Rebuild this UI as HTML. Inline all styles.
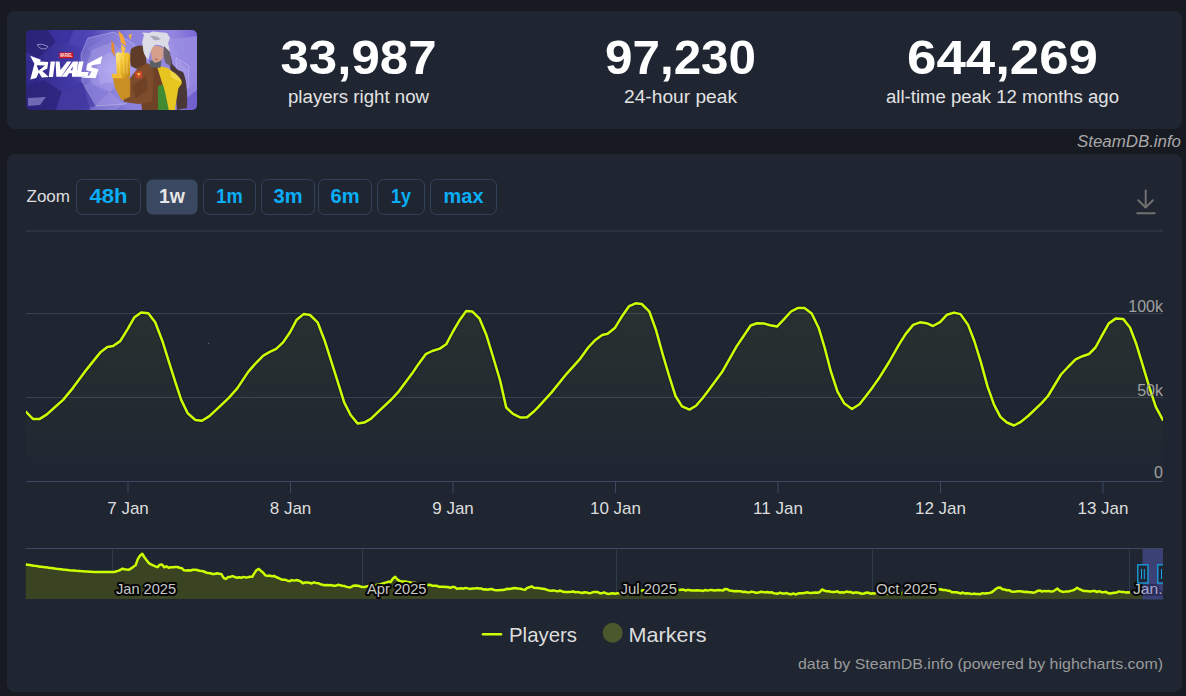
<!DOCTYPE html>
<html><head><meta charset="utf-8"><style>
html,body{margin:0;padding:0}
body{width:1186px;height:696px;overflow:hidden;background:#171a21;position:relative;font-family:"Liberation Sans",sans-serif}
.card{position:absolute;background:#1f2632;border-radius:8px}
.img{position:absolute;left:26px;top:30px;width:171px;height:80px;border-radius:5px;overflow:hidden}
.stat{position:absolute;top:0;width:320px;text-align:center;color:#fff}
.num{position:absolute;left:0;width:320px;top:31px;font-size:46px;line-height:52px;font-weight:bold;transform:scaleX(1.09)}
.lbl{position:absolute;left:0;width:320px;top:84px;font-size:18px;line-height:22px;color:#e0e0e0}
.wm{position:absolute;right:5px;top:130px;font-size:16px;font-style:italic;color:#a8a8a8;line-height:20px}
</style></head><body>
<div class="card" style="left:7px;top:11px;width:1175px;height:118px"></div>
<div class="img"><svg width="171" height="80" viewBox="0 0 171 80">
<defs>
<linearGradient id="ibg" x1="0" y1="0" x2="1" y2="0">
<stop offset="0" stop-color="#2e2786"/><stop offset="0.35" stop-color="#4a3fb0"/><stop offset="0.6" stop-color="#8a80dc"/><stop offset="0.85" stop-color="#9486e0"/><stop offset="1" stop-color="#7a68d4"/>
</linearGradient>
<radialGradient id="glow" cx="0.55" cy="0.5" r="0.3">
<stop offset="0" stop-color="#d0caff" stop-opacity="0.6"/><stop offset="1" stop-color="#b0a0f0" stop-opacity="0"/>
</radialGradient>
<linearGradient id="gold" x1="0" y1="0" x2="1" y2="1">
<stop offset="0" stop-color="#fff09a"/><stop offset="0.45" stop-color="#f2c02a"/><stop offset="1" stop-color="#c08018"/>
</linearGradient>
<linearGradient id="jk" x1="0" y1="0" x2="1" y2="1">
<stop offset="0" stop-color="#8a5632"/><stop offset="1" stop-color="#5a341e"/>
</linearGradient>
</defs>
<rect width="171" height="80" fill="url(#ibg)"/>
<rect width="171" height="80" fill="url(#glow)"/>
<polygon points="0,0 22,0 30,12 12,28 0,22" fill="#2a2276" opacity="0.8"/>
<polygon points="22,0 48,0 42,14 30,12" fill="#3a31a0" opacity="0.7"/>
<polygon points="48,0 70,0 62,18 42,14" fill="#5048b8" opacity="0.6"/>
<polygon points="0,22 12,28 8,52 0,56" fill="#3c34a0" opacity="0.6"/>
<polygon points="0,56 18,50 36,62 30,80 0,80" fill="#2c2478" opacity="0.8"/>
<polygon points="30,80 36,62 58,56 64,80" fill="#4a40aa" opacity="0.7"/>
<polygon points="58,56 78,42 86,62 64,80" fill="#7a70d0" opacity="0.6"/>
<polygon points="62,18 80,8 84,30 70,36" fill="#7068c8" opacity="0.6"/>
<polygon points="84,62 98,74 90,80 64,80" fill="#a098e0" opacity="0.5"/>
<polygon points="146,12 166,4 171,10 171,44 156,34" fill="#8070d8" opacity="0.7"/>
<polygon points="152,30 162,40 160,62 150,56" fill="#c0b8f4" opacity="0.45"/>
<polygon points="160,60 171,52 171,80 158,80" fill="#6a58c8" opacity="0.6"/>
<polygon points="62,8 88,2 108,14 112,48 100,74 70,76 56,52 55,24" fill="#a49ce8" opacity="0.45"/>
<polygon points="62,8 88,2 108,14 112,48 100,74 70,76 56,52 55,24" fill="none" stroke="#dcd6ff" stroke-width="0.7" opacity="0.55"/>
<polygon points="66,20 86,12 100,24 98,50 84,62 66,54 60,36" fill="#b8b0f0" opacity="0.35"/>
<polygon points="70,30 84,22 94,34 90,52 74,54" fill="#d0c8ff" opacity="0.25"/>
<polygon points="56,52 70,76 50,80 30,80 38,62" fill="#3e349a" opacity="0.5"/>
<polygon points="0,30 14,34 10,56 0,60" fill="#2c2480" opacity="0.5"/>
<path d="M11.5,14.5 Q16,13 22,16.5 Q21,19.5 17,19 Q12,18 11.5,14.5 Z" fill="none" stroke="#c8c0f0" stroke-width="0.8" opacity="0.8"/>
<polygon points="2,68 20,67 14,75 2,76" fill="#a8a0e0" opacity="0.55"/>
<rect x="33.2" y="22.4" width="14" height="5.8" fill="#d0121b"/>
<text x="40.2" y="27.3" font-family="Liberation Sans" font-weight="bold" font-size="5.4" fill="#fff" text-anchor="middle" textLength="12" lengthAdjust="spacingAndGlyphs">MARVEL</text>
<g fill="#fff">
<path d="M4.1,25.7 L14.9,29.7 L14,31.5 L22.2,32 L21.3,38.4 L16.3,41.1 L22.7,47.1 L15.8,47.6 L12.8,42.5 L10.3,48 L4.3,49.4 L8.4,33.8 Z M10.7,35.2 L19,35.6 L12.6,40.7 Z" fill-rule="evenodd"/>
<polygon points="24.6,31.5 29,31.5 27,47 22.8,47"/>
<polygon points="29.6,31.5 33.6,31.5 34.5,40 41.1,31.5 45.4,31.5 35.3,46.8 30.3,46.8"/>
<path d="M35.5,46.8 L47,31.5 L52,31.5 L50.5,46.8 L46,46.8 L46,43.2 L43,43.2 L40.8,46.8 Z M44.6,40.2 L46.4,40.2 L46.9,36.2 Z" fill-rule="evenodd"/>
<polygon points="52.8,31.5 57.6,31.5 55.2,42 62.6,42 61.4,46.8 50,46.8"/>
<polygon points="76.2,26 74.6,33.8 66.1,35.2 65.1,37.2 72.5,39.3 69.7,48 55,47.8 63.3,45.5 65.6,41.6 60.1,40.2 61.5,33.8"/>
</g>
<polygon points="140,10 171,6 171,60 158,70" fill="#a89ce8" opacity="0.55"/>
<polygon points="150,28 163,36 162,58 152,62" fill="none" stroke="#d8d0ff" stroke-width="0.7" opacity="0.6"/>
<!-- right jacket dark -->
<path d="M140,20 Q146,26 146,34 L152,40 L157,42 Q162,52 161,78 L151,80 L149,58 Z" fill="#4a3838"/>
<!-- hair back brown -->
<path d="M105,19 Q111,14 119,16 L121,40 Q112,41 105,36 Q103,28 105,19 Z" fill="#5e3c28"/>
<!-- jacket lapel -->
<path d="M118,34 L131,35 L137,54 L140,80 L116,80 L114,60 Z" fill="#6e4226"/>
<!-- sleeve -->
<path d="M104,48 L112,38 L122,33 L128,42 L126,72 L112,74 L98,72 L96,62 Z" fill="#7c4c2c"/>
<path d="M106,56 L120,46 L122,60 L110,68 Z" fill="#6a3e22" opacity="0.7"/>
<path d="M109,41.4 L116,41 L116.2,48 L109.5,48.5 Z" fill="#c8482e"/>
<path d="M111,43 L114.5,43 L113,46.5 Z" fill="#f0c030"/>
<!-- yellow -->
<path d="M130.7,35.4 L142,38 L151.2,46.3 Q157,50 155.5,54 L152.4,58.3 L148.8,80 L139,80 L136.7,54.7 Z" fill="#e7c520"/>
<path d="M144,40 Q154,45 155,52 Q149,50 145,47 Z" fill="#f6dc50" opacity="0.8"/>
<!-- green -->
<path d="M131.9,56 L137,54.5 L139,62 L142.8,80 L131.9,80 Z" fill="#3f8a32"/>
<!-- collar -->
<path d="M123.5,30.6 L135.5,30.6 L134.5,37.8 L124.5,37.8 Z" fill="#5a5e66"/>
<!-- face -->
<path d="M125,17 Q131,14 137.5,18 L137.5,27 Q134,33 128,32.5 Q124.5,29 125,17 Z" fill="#d4a08c"/>
<path d="M128.5,29 L132,29.5" stroke="#a05050" stroke-width="0.8"/>
<!-- hair white -->
<path d="M116.2,12 L118,5 L116,2.5 L123,3 L127,1.6 L134,2.2 L141,3 L144,8 L142,13 L144,22 L139,18 Q134,14 129,15 Q126,17 124.5,22 L122,30 Q117,24 117,18 Z" fill="#dcdce6"/>
<path d="M124,6 Q130,5 135,9 Q131,11 128,10 Z" fill="#a8a8b8"/>
<path d="M138,16 L144,22 L145.2,36.6 L139.5,33 L137.5,26 Z" fill="#6c6068"/>
<!-- gold arm & hand -->
<path d="M86,44 L95,44.5 L104.2,48.7 L104.2,66.8 L95.7,70.4 L89,58 Z" fill="#c98e24"/>
<path d="M89.7,24 L92,22.1 L95,23 L97,21.5 L100,23 L102,22.5 L104.2,25 L104,47 L97,49 L91,46.5 Z" fill="url(#gold)"/>
<path d="M85.7,43.7 L95,44 L96,48.3 L86.5,48.3 Z" fill="#f3bc34"/>
<path d="M93,27 L94,44 M97,26 L98,44 M101,27 L101,44" stroke="#fff0a0" stroke-width="0.6" opacity="0.7"/>
<polygon points="92.1,0.4 97,5 100.5,16.1 95,13" fill="#f5a838"/>
<polygon points="102.3,5.2 106,3.5 104.5,10" fill="#f0b048"/>
<polygon points="85.5,10 88,14 89,27 85.5,21" fill="#e88a30"/>
<polygon points="95.5,14 99.5,18 98,24 95,20" fill="#f8c040"/>
</svg></div>
<svg width="1186" height="150" style="position:absolute;left:0;top:0" font-family="Liberation Sans">
<text x="358.5" y="73.5" font-size="48" font-weight="bold" fill="#fff" text-anchor="middle" textLength="156" lengthAdjust="spacingAndGlyphs">33,987</text><text x="358.5" y="103" font-size="18.8" fill="#e2e2e2" text-anchor="middle" textLength="141" lengthAdjust="spacingAndGlyphs">players right now</text>
<text x="680.5" y="73.5" font-size="48" font-weight="bold" fill="#fff" text-anchor="middle" textLength="151" lengthAdjust="spacingAndGlyphs">97,230</text><text x="680.5" y="103" font-size="18.8" fill="#e2e2e2" text-anchor="middle" textLength="113" lengthAdjust="spacingAndGlyphs">24-hour peak</text>
<text x="1002.5" y="73.5" font-size="48" font-weight="bold" fill="#fff" text-anchor="middle" textLength="191" lengthAdjust="spacingAndGlyphs">644,269</text><text x="1002.5" y="103" font-size="18.8" fill="#e2e2e2" text-anchor="middle" textLength="233" lengthAdjust="spacingAndGlyphs">all-time peak 12 months ago</text>
<text x="1181" y="146.8" font-size="16" font-style="italic" fill="#a8a8a8" text-anchor="end" textLength="104" lengthAdjust="spacingAndGlyphs">SteamDB.info</text>
</svg>
<div class="card" style="left:7px;top:154px;width:1175px;height:538px"></div>
<svg width="1186" height="696" viewBox="0 0 1186 696" style="position:absolute;left:0;top:0" font-family="Liberation Sans">
<defs>
<linearGradient id="af" x1="0" y1="231" x2="0" y2="481" gradientUnits="userSpaceOnUse">
<stop offset="0" stop-color="#ccff00" stop-opacity="0.075"/><stop offset="1" stop-color="#ccff00" stop-opacity="0"/>
</linearGradient>
<clipPath id="pc"><rect x="26" y="220" width="1137" height="262"/></clipPath>
<clipPath id="nc"><rect x="25.5" y="548" width="1137.5" height="52"/></clipPath>
</defs>
<text x="26.5" y="202" font-size="17" fill="#dddddd">Zoom</text>
<rect x="76.5" y="179.5" width="64" height="35" rx="6" fill="none" stroke="#33425a" stroke-width="1"/><text x="108.5" y="203" font-size="19.5" font-weight="bold" fill="#0aaef7" text-anchor="middle" textLength="38" lengthAdjust="spacingAndGlyphs">48h</text><rect x="146.5" y="179.5" width="51" height="35" rx="6" fill="#3a4862"/><text x="172.0" y="203" font-size="19.5" font-weight="bold" fill="#e6e6e6" text-anchor="middle" textLength="26" lengthAdjust="spacingAndGlyphs">1w</text><rect x="203.5" y="179.5" width="52" height="35" rx="6" fill="none" stroke="#33425a" stroke-width="1"/><text x="229.5" y="203" font-size="19.5" font-weight="bold" fill="#0aaef7" text-anchor="middle" textLength="26.5" lengthAdjust="spacingAndGlyphs">1m</text><rect x="261.5" y="179.5" width="53" height="35" rx="6" fill="none" stroke="#33425a" stroke-width="1"/><text x="288.0" y="203" font-size="19.5" font-weight="bold" fill="#0aaef7" text-anchor="middle" textLength="29" lengthAdjust="spacingAndGlyphs">3m</text><rect x="318.5" y="179.5" width="53" height="35" rx="6" fill="none" stroke="#33425a" stroke-width="1"/><text x="345.0" y="203" font-size="19.5" font-weight="bold" fill="#0aaef7" text-anchor="middle" textLength="29" lengthAdjust="spacingAndGlyphs">6m</text><rect x="377.5" y="179.5" width="47" height="35" rx="6" fill="none" stroke="#33425a" stroke-width="1"/><text x="401.0" y="203" font-size="19.5" font-weight="bold" fill="#0aaef7" text-anchor="middle" textLength="20" lengthAdjust="spacingAndGlyphs">1y</text><rect x="430.5" y="179.5" width="66" height="35" rx="6" fill="none" stroke="#33425a" stroke-width="1"/><text x="463.5" y="203" font-size="19.5" font-weight="bold" fill="#0aaef7" text-anchor="middle" textLength="40" lengthAdjust="spacingAndGlyphs">max</text>
<g stroke="#707070" stroke-width="2" fill="none" stroke-linecap="round" stroke-linejoin="round">
<line x1="1145.7" y1="190.5" x2="1145.7" y2="207.3"/>
<polyline points="1138.3,200.2 1145.6,207.5 1152.9,200.2"/>
<line x1="1137.2" y1="213.2" x2="1154.7" y2="213.2"/>
</g>
<line x1="26" y1="231" x2="1163" y2="231" stroke="#394150" stroke-width="1"/>
<line x1="26" y1="313.5" x2="1163" y2="313.5" stroke="#394150" stroke-width="1"/>
<line x1="26" y1="397.5" x2="1163" y2="397.5" stroke="#394150" stroke-width="1"/>
<g clip-path="url(#pc)">
<path d="M26.0,411.8 L32.9,418.9 L39.8,418.9 L46.9,414.4 L54.5,407.5 L63.1,399.9 L72.8,388.1 L84.7,371.9 L93.3,361.1 L100.8,351.9 L107.3,347.1 L113.1,346.0 L120.2,341.1 L127.8,328.8 L134.2,317.6 L141.1,312.6 L148.3,313.3 L155.2,322.3 L162.3,340.7 L168.7,361.1 L175.2,381.6 L181.2,399.9 L187.7,413.3 L195.4,420.0 L201.9,420.8 L209.4,416.1 L218.0,408.1 L228.8,397.8 L237.4,388.1 L248.2,371.9 L254.7,364.4 L263.3,355.7 L269.8,351.9 L276.2,348.8 L283.1,342.4 L290.2,332.0 L296.7,319.7 L303.6,314.1 L310.1,315.0 L317.6,322.3 L324.7,340.7 L331.2,361.1 L337.7,381.6 L344.1,402.1 L350.6,415.0 L357.7,423.6 L364.2,422.6 L370.8,418.9 L380.5,409.6 L391.3,399.5 L398.8,391.3 L411.7,374.1 L418.2,364.4 L425.7,354.2 L432.2,351.0 L439.8,348.6 L446.2,344.3 L452.7,332.0 L459.2,320.8 L466.1,311.1 L472.5,311.6 L479.6,318.7 L486.5,335.3 L493.7,359.0 L500.1,380.5 L506.2,407.5 L513.0,413.9 L520.6,417.6 L527.1,417.2 L533.5,411.8 L537.5,407.9 L551.6,392.4 L566.6,373.8 L579.6,359.4 L588.2,347.5 L594.7,340.6 L602.2,335.0 L607.6,333.7 L615.1,327.7 L622.7,315.2 L629.2,306.1 L635.6,303.3 L641.7,304.0 L649.2,311.3 L656.1,330.3 L662.6,354.0 L669.0,375.5 L675.5,396.0 L682.0,406.4 L689.5,409.6 L696.0,405.7 L702.5,398.2 L708.6,390.2 L722.6,371.2 L736.6,346.4 L743.1,336.7 L750.7,325.5 L757.1,323.2 L763.6,323.4 L770.1,325.3 L777.0,326.6 L784.1,319.1 L791.0,311.5 L798.1,307.9 L804.5,308.1 L811.7,313.5 L818.6,327.7 L824.6,347.5 L830.8,371.2 L837.5,391.7 L844.4,403.6 L852.0,409.0 L859.5,404.2 L866.0,396.0 L872.5,387.4 L878.6,378.8 L889.4,361.5 L899.1,344.3 L905.6,334.1 L913.1,324.9 L920.0,322.3 L926.5,323.2 L933.0,326.0 L940.1,322.1 L947.0,314.7 L954.1,312.6 L960.5,314.1 L968.1,324.9 L974.5,341.5 L981.0,362.6 L987.5,386.3 L994.0,404.6 L1000.4,416.9 L1006.9,422.5 L1014.0,425.5 L1020.9,421.9 L1028.6,415.5 L1041.6,403.2 L1048.0,396.0 L1061.0,374.5 L1068.5,366.5 L1075.6,359.4 L1082.5,356.2 L1089.0,354.0 L1095.5,347.5 L1101.9,335.7 L1108.8,323.4 L1116.0,318.4 L1123.1,318.9 L1130.0,327.5 L1136.4,344.3 L1142.9,365.9 L1149.4,387.4 L1155.8,406.8 L1162.8,419.8 L1162.8,481 L26.0,481 Z" fill="url(#af)"/>
<path d="M26.0,411.8 L32.9,418.9 L39.8,418.9 L46.9,414.4 L54.5,407.5 L63.1,399.9 L72.8,388.1 L84.7,371.9 L93.3,361.1 L100.8,351.9 L107.3,347.1 L113.1,346.0 L120.2,341.1 L127.8,328.8 L134.2,317.6 L141.1,312.6 L148.3,313.3 L155.2,322.3 L162.3,340.7 L168.7,361.1 L175.2,381.6 L181.2,399.9 L187.7,413.3 L195.4,420.0 L201.9,420.8 L209.4,416.1 L218.0,408.1 L228.8,397.8 L237.4,388.1 L248.2,371.9 L254.7,364.4 L263.3,355.7 L269.8,351.9 L276.2,348.8 L283.1,342.4 L290.2,332.0 L296.7,319.7 L303.6,314.1 L310.1,315.0 L317.6,322.3 L324.7,340.7 L331.2,361.1 L337.7,381.6 L344.1,402.1 L350.6,415.0 L357.7,423.6 L364.2,422.6 L370.8,418.9 L380.5,409.6 L391.3,399.5 L398.8,391.3 L411.7,374.1 L418.2,364.4 L425.7,354.2 L432.2,351.0 L439.8,348.6 L446.2,344.3 L452.7,332.0 L459.2,320.8 L466.1,311.1 L472.5,311.6 L479.6,318.7 L486.5,335.3 L493.7,359.0 L500.1,380.5 L506.2,407.5 L513.0,413.9 L520.6,417.6 L527.1,417.2 L533.5,411.8 L537.5,407.9 L551.6,392.4 L566.6,373.8 L579.6,359.4 L588.2,347.5 L594.7,340.6 L602.2,335.0 L607.6,333.7 L615.1,327.7 L622.7,315.2 L629.2,306.1 L635.6,303.3 L641.7,304.0 L649.2,311.3 L656.1,330.3 L662.6,354.0 L669.0,375.5 L675.5,396.0 L682.0,406.4 L689.5,409.6 L696.0,405.7 L702.5,398.2 L708.6,390.2 L722.6,371.2 L736.6,346.4 L743.1,336.7 L750.7,325.5 L757.1,323.2 L763.6,323.4 L770.1,325.3 L777.0,326.6 L784.1,319.1 L791.0,311.5 L798.1,307.9 L804.5,308.1 L811.7,313.5 L818.6,327.7 L824.6,347.5 L830.8,371.2 L837.5,391.7 L844.4,403.6 L852.0,409.0 L859.5,404.2 L866.0,396.0 L872.5,387.4 L878.6,378.8 L889.4,361.5 L899.1,344.3 L905.6,334.1 L913.1,324.9 L920.0,322.3 L926.5,323.2 L933.0,326.0 L940.1,322.1 L947.0,314.7 L954.1,312.6 L960.5,314.1 L968.1,324.9 L974.5,341.5 L981.0,362.6 L987.5,386.3 L994.0,404.6 L1000.4,416.9 L1006.9,422.5 L1014.0,425.5 L1020.9,421.9 L1028.6,415.5 L1041.6,403.2 L1048.0,396.0 L1061.0,374.5 L1068.5,366.5 L1075.6,359.4 L1082.5,356.2 L1089.0,354.0 L1095.5,347.5 L1101.9,335.7 L1108.8,323.4 L1116.0,318.4 L1123.1,318.9 L1130.0,327.5 L1136.4,344.3 L1142.9,365.9 L1149.4,387.4 L1155.8,406.8 L1162.8,419.8" fill="none" stroke="#0f1530" stroke-opacity="0.4" stroke-width="4.8" stroke-linejoin="round"/>
<path d="M26.0,411.8 L32.9,418.9 L39.8,418.9 L46.9,414.4 L54.5,407.5 L63.1,399.9 L72.8,388.1 L84.7,371.9 L93.3,361.1 L100.8,351.9 L107.3,347.1 L113.1,346.0 L120.2,341.1 L127.8,328.8 L134.2,317.6 L141.1,312.6 L148.3,313.3 L155.2,322.3 L162.3,340.7 L168.7,361.1 L175.2,381.6 L181.2,399.9 L187.7,413.3 L195.4,420.0 L201.9,420.8 L209.4,416.1 L218.0,408.1 L228.8,397.8 L237.4,388.1 L248.2,371.9 L254.7,364.4 L263.3,355.7 L269.8,351.9 L276.2,348.8 L283.1,342.4 L290.2,332.0 L296.7,319.7 L303.6,314.1 L310.1,315.0 L317.6,322.3 L324.7,340.7 L331.2,361.1 L337.7,381.6 L344.1,402.1 L350.6,415.0 L357.7,423.6 L364.2,422.6 L370.8,418.9 L380.5,409.6 L391.3,399.5 L398.8,391.3 L411.7,374.1 L418.2,364.4 L425.7,354.2 L432.2,351.0 L439.8,348.6 L446.2,344.3 L452.7,332.0 L459.2,320.8 L466.1,311.1 L472.5,311.6 L479.6,318.7 L486.5,335.3 L493.7,359.0 L500.1,380.5 L506.2,407.5 L513.0,413.9 L520.6,417.6 L527.1,417.2 L533.5,411.8 L537.5,407.9 L551.6,392.4 L566.6,373.8 L579.6,359.4 L588.2,347.5 L594.7,340.6 L602.2,335.0 L607.6,333.7 L615.1,327.7 L622.7,315.2 L629.2,306.1 L635.6,303.3 L641.7,304.0 L649.2,311.3 L656.1,330.3 L662.6,354.0 L669.0,375.5 L675.5,396.0 L682.0,406.4 L689.5,409.6 L696.0,405.7 L702.5,398.2 L708.6,390.2 L722.6,371.2 L736.6,346.4 L743.1,336.7 L750.7,325.5 L757.1,323.2 L763.6,323.4 L770.1,325.3 L777.0,326.6 L784.1,319.1 L791.0,311.5 L798.1,307.9 L804.5,308.1 L811.7,313.5 L818.6,327.7 L824.6,347.5 L830.8,371.2 L837.5,391.7 L844.4,403.6 L852.0,409.0 L859.5,404.2 L866.0,396.0 L872.5,387.4 L878.6,378.8 L889.4,361.5 L899.1,344.3 L905.6,334.1 L913.1,324.9 L920.0,322.3 L926.5,323.2 L933.0,326.0 L940.1,322.1 L947.0,314.7 L954.1,312.6 L960.5,314.1 L968.1,324.9 L974.5,341.5 L981.0,362.6 L987.5,386.3 L994.0,404.6 L1000.4,416.9 L1006.9,422.5 L1014.0,425.5 L1020.9,421.9 L1028.6,415.5 L1041.6,403.2 L1048.0,396.0 L1061.0,374.5 L1068.5,366.5 L1075.6,359.4 L1082.5,356.2 L1089.0,354.0 L1095.5,347.5 L1101.9,335.7 L1108.8,323.4 L1116.0,318.4 L1123.1,318.9 L1130.0,327.5 L1136.4,344.3 L1142.9,365.9 L1149.4,387.4 L1155.8,406.8 L1162.8,419.8" fill="none" stroke="#ccff00" stroke-width="2.5" stroke-linejoin="round" stroke-linecap="round"/>
</g>
<circle cx="208.5" cy="343.5" r="0.7" fill="#5a6272"/>
<line x1="26" y1="481.5" x2="1163" y2="481.5" stroke="#3b4a60" stroke-width="1"/>
<line x1="128" y1="481" x2="128" y2="493" stroke="#3b4a60" stroke-width="1"/><line x1="290.5" y1="481" x2="290.5" y2="493" stroke="#3b4a60" stroke-width="1"/><line x1="453" y1="481" x2="453" y2="493" stroke="#3b4a60" stroke-width="1"/><line x1="615.5" y1="481" x2="615.5" y2="493" stroke="#3b4a60" stroke-width="1"/><line x1="778" y1="481" x2="778" y2="493" stroke="#3b4a60" stroke-width="1"/><line x1="940.5" y1="481" x2="940.5" y2="493" stroke="#3b4a60" stroke-width="1"/><line x1="1103" y1="481" x2="1103" y2="493" stroke="#3b4a60" stroke-width="1"/><text x="128" y="514" font-size="17" fill="#dddddd" text-anchor="middle">7 Jan</text><text x="290.5" y="514" font-size="17" fill="#dddddd" text-anchor="middle">8 Jan</text><text x="453" y="514" font-size="17" fill="#dddddd" text-anchor="middle">9 Jan</text><text x="615.5" y="514" font-size="17" fill="#dddddd" text-anchor="middle">10 Jan</text><text x="778" y="514" font-size="17" fill="#dddddd" text-anchor="middle">11 Jan</text><text x="940.5" y="514" font-size="17" fill="#dddddd" text-anchor="middle">12 Jan</text><text x="1103" y="514" font-size="17" fill="#dddddd" text-anchor="middle">13 Jan</text>
<text x="1163" y="312" font-size="16" fill="#a0a0a0" text-anchor="end">100k</text>
<text x="1163" y="396" font-size="16" fill="#a0a0a0" text-anchor="end">50k</text>
<text x="1163" y="478" font-size="16" fill="#a0a0a0" text-anchor="end">0</text>
<g clip-path="url(#nc)">
<line x1="112.5" y1="548.5" x2="112.5" y2="599" stroke="#2f3a4b" stroke-width="1"/><line x1="362.5" y1="548.5" x2="362.5" y2="599" stroke="#2f3a4b" stroke-width="1"/><line x1="616.5" y1="548.5" x2="616.5" y2="599" stroke="#2f3a4b" stroke-width="1"/><line x1="872.5" y1="548.5" x2="872.5" y2="599" stroke="#2f3a4b" stroke-width="1"/><line x1="1129.5" y1="548.5" x2="1129.5" y2="599" stroke="#2f3a4b" stroke-width="1"/>
<path d="M25.6,564.5 L27.8,564.8 L30.0,565.1 L32.2,565.4 L34.4,565.8 L36.6,566.1 L38.8,566.4 L41.0,566.7 L43.2,567.0 L45.4,567.3 L47.6,567.6 L49.8,567.9 L52.0,568.1 L54.2,568.4 L56.4,568.7 L58.6,568.9 L60.8,569.2 L63.0,569.5 L65.2,569.7 L67.4,570.0 L69.6,570.3 L71.8,570.5 L74.0,570.6 L76.2,570.8 L78.4,570.9 L80.6,571.1 L82.8,571.2 L85.0,571.4 L87.2,571.5 L89.4,571.7 L91.6,571.8 L93.8,572.0 L96.0,572.1 L98.2,572.1 L100.4,572.1 L102.6,572.1 L104.8,572.1 L107.0,572.1 L109.2,572.1 L111.4,572.1 L113.6,572.1 L115.8,571.5 L118.0,570.9 L120.2,570.0 L122.4,568.7 L124.6,569.2 L126.8,569.5 L129.0,569.7 L131.2,568.4 L133.4,566.8 L135.6,565.3 L137.8,559.2 L140.0,555.7 L142.2,553.8 L144.4,557.2 L146.6,560.3 L148.8,563.1 L151.0,564.3 L153.2,565.3 L155.4,566.3 L157.6,567.2 L159.8,564.7 L162.0,564.4 L164.2,567.3 L166.4,566.3 L168.6,567.8 L170.8,567.3 L173.0,567.2 L175.2,567.0 L177.4,567.0 L179.6,567.7 L181.8,568.2 L184.0,570.3 L186.2,570.6 L188.4,570.2 L190.6,570.5 L192.8,569.8 L195.0,569.8 L197.2,570.0 L199.4,570.7 L201.6,570.9 L203.8,571.5 L206.0,572.5 L208.2,573.1 L210.4,573.3 L212.6,574.0 L214.8,573.9 L217.0,573.2 L219.2,573.7 L221.4,574.1 L223.6,577.8 L225.8,579.0 L228.0,577.1 L230.2,576.9 L232.4,576.1 L234.6,576.9 L236.8,577.8 L239.0,577.3 L241.2,577.8 L243.4,576.9 L245.6,577.4 L247.8,577.3 L250.0,576.7 L252.2,576.8 L254.4,573.1 L256.6,570.0 L258.8,568.9 L261.0,570.9 L263.2,572.8 L265.4,575.4 L267.6,575.9 L269.8,575.6 L272.0,576.3 L274.2,575.9 L276.4,577.3 L278.6,578.0 L280.8,579.2 L283.0,579.7 L285.2,579.7 L287.4,580.6 L289.6,581.2 L291.8,580.1 L294.0,580.6 L296.2,580.1 L298.4,580.5 L300.6,581.3 L302.8,583.2 L305.0,582.5 L307.2,582.6 L309.4,582.8 L311.6,583.5 L313.8,582.4 L316.0,582.9 L318.2,583.2 L320.4,584.2 L322.6,584.7 L324.8,585.3 L327.0,585.0 L329.2,585.3 L331.4,585.1 L333.6,585.7 L335.8,585.7 L338.0,584.8 L340.2,585.2 L342.4,585.7 L344.6,586.1 L346.8,586.9 L349.0,587.4 L351.2,587.0 L353.4,585.7 L355.6,585.4 L357.8,585.7 L360.0,586.3 L362.2,587.1 L364.4,587.1 L366.6,586.4 L368.8,586.1 L371.0,585.8 L373.2,584.5 L375.4,585.3 L377.6,584.7 L379.8,584.4 L382.0,583.8 L384.2,582.9 L386.4,582.4 L388.6,581.6 L390.8,581.9 L393.0,578.4 L395.2,576.7 L397.4,579.5 L399.6,580.9 L401.8,581.4 L404.0,581.4 L406.2,581.6 L408.4,582.1 L410.6,582.4 L412.8,583.0 L415.0,582.8 L417.2,584.3 L419.4,584.2 L421.6,583.8 L423.8,584.2 L426.0,584.6 L428.2,584.9 L430.4,584.8 L432.6,585.8 L434.8,585.7 L437.0,585.8 L439.2,586.8 L441.4,586.7 L443.6,586.7 L445.8,587.1 L448.0,587.0 L450.2,587.8 L452.4,586.9 L454.6,587.1 L456.8,588.7 L459.0,588.4 L461.2,588.2 L463.4,588.7 L465.6,587.9 L467.8,588.4 L470.0,588.9 L472.2,588.6 L474.4,588.6 L476.6,588.1 L478.8,588.5 L481.0,588.4 L483.2,589.4 L485.4,589.2 L487.6,589.7 L489.8,589.2 L492.0,589.1 L494.2,590.0 L496.4,590.3 L498.6,590.3 L500.8,590.1 L503.0,589.9 L505.2,589.6 L507.4,588.7 L509.6,588.9 L511.8,588.5 L514.0,588.0 L516.2,588.2 L518.4,588.6 L520.6,588.7 L522.8,589.4 L525.0,589.9 L527.2,587.9 L529.4,587.3 L531.6,586.3 L533.8,587.8 L536.0,588.0 L538.2,588.1 L540.4,588.4 L542.6,588.7 L544.8,589.0 L547.0,589.9 L549.2,590.5 L551.4,590.7 L553.6,590.4 L555.8,590.9 L558.0,591.3 L560.2,590.5 L562.4,591.6 L564.6,592.0 L566.8,592.0 L569.0,592.0 L571.2,591.8 L573.4,591.4 L575.6,592.4 L577.8,591.9 L580.0,592.6 L582.2,593.0 L584.4,592.3 L586.6,592.4 L588.8,593.2 L591.0,592.9 L593.2,592.1 L595.4,592.1 L597.6,592.1 L599.8,593.2 L602.0,593.2 L604.2,592.4 L606.4,593.5 L608.6,593.9 L610.8,593.6 L613.0,593.3 L615.2,593.7 L617.4,593.3 L619.6,593.1 L621.8,594.2 L624.0,593.4 L626.2,592.9 L628.4,593.2 L630.6,592.2 L632.8,592.5 L635.0,592.2 L637.2,591.0 L639.4,590.7 L641.6,590.5 L643.8,590.2 L646.0,590.7 L648.2,590.2 L650.4,590.4 L652.6,590.0 L654.8,591.0 L657.0,590.2 L659.2,590.3 L661.4,590.5 L663.6,590.9 L665.8,590.2 L668.0,590.9 L670.2,590.2 L672.4,590.3 L674.6,590.2 L676.8,589.5 L679.0,590.0 L681.2,589.7 L683.4,589.5 L685.6,590.6 L687.8,589.8 L690.0,590.2 L692.2,590.6 L694.4,590.4 L696.6,590.2 L698.8,590.5 L701.0,590.6 L703.2,590.9 L705.4,590.0 L707.6,590.6 L709.8,590.1 L712.0,590.0 L714.2,590.6 L716.4,590.2 L718.6,590.1 L720.8,590.3 L723.0,590.4 L725.2,588.9 L727.4,589.2 L729.6,590.6 L731.8,590.8 L734.0,591.2 L736.2,590.9 L738.4,591.2 L740.6,591.2 L742.8,592.0 L745.0,591.8 L747.2,592.2 L749.4,592.4 L751.6,591.6 L753.8,592.1 L756.0,592.7 L758.2,592.7 L760.4,591.8 L762.6,591.9 L764.8,592.4 L767.0,592.0 L769.2,592.4 L771.4,592.2 L773.6,593.2 L775.8,593.4 L778.0,593.7 L780.2,592.7 L782.4,593.6 L784.6,593.6 L786.8,593.0 L789.0,594.1 L791.2,594.3 L793.4,593.4 L795.6,594.5 L797.8,593.6 L800.0,593.2 L802.2,593.3 L804.4,593.1 L806.6,592.3 L808.8,592.7 L811.0,592.9 L813.2,592.7 L815.4,592.6 L817.6,592.8 L819.8,592.0 L822.0,589.5 L824.2,590.5 L826.4,591.3 L828.6,591.2 L830.8,591.7 L833.0,592.1 L835.2,591.9 L837.4,591.3 L839.6,592.6 L841.8,592.3 L844.0,592.6 L846.2,591.6 L848.4,592.0 L850.6,591.9 L852.8,593.1 L855.0,592.5 L857.2,592.5 L859.4,593.0 L861.6,593.7 L863.8,593.5 L866.0,592.8 L868.2,592.6 L870.4,593.7 L872.6,593.2 L874.8,593.4 L877.0,592.5 L879.2,592.5 L881.4,593.4 L883.6,593.0 L885.8,592.5 L888.0,593.7 L890.2,593.3 L892.4,593.5 L894.6,592.5 L896.8,593.6 L899.0,592.5 L901.2,593.5 L903.4,592.7 L905.6,592.3 L907.8,592.4 L910.0,592.7 L912.2,591.6 L914.4,591.1 L916.6,591.5 L918.8,590.9 L921.0,590.5 L923.2,590.3 L925.4,589.9 L927.6,589.9 L929.8,589.9 L932.0,589.6 L934.2,590.1 L936.4,589.2 L938.6,589.4 L940.8,589.3 L943.0,590.0 L945.2,589.9 L947.4,590.7 L949.6,590.7 L951.8,592.2 L954.0,592.3 L956.2,592.2 L958.4,592.7 L960.6,593.5 L962.8,592.5 L965.0,593.6 L967.2,593.2 L969.4,593.5 L971.6,594.1 L973.8,593.6 L976.0,593.9 L978.2,594.0 L980.4,594.2 L982.6,593.1 L984.8,593.6 L987.0,593.3 L989.2,593.0 L991.4,592.4 L993.6,590.9 L995.8,589.0 L998.0,587.7 L1000.2,587.5 L1002.4,589.3 L1004.6,589.5 L1006.8,590.2 L1009.0,590.2 L1011.2,591.4 L1013.4,591.7 L1015.6,591.6 L1017.8,591.2 L1020.0,591.3 L1022.2,591.6 L1024.4,592.0 L1026.6,591.7 L1028.8,592.3 L1031.0,592.2 L1033.2,592.8 L1035.4,592.1 L1037.6,590.8 L1039.8,590.4 L1042.0,591.6 L1044.2,590.9 L1046.4,591.2 L1048.6,590.9 L1050.8,591.6 L1053.0,591.3 L1055.2,590.0 L1057.4,588.6 L1059.6,590.6 L1061.8,591.5 L1064.0,591.9 L1066.2,591.4 L1068.4,591.6 L1070.6,590.9 L1072.8,590.4 L1075.0,589.3 L1077.2,587.8 L1079.4,589.2 L1081.6,590.2 L1083.8,591.0 L1086.0,591.0 L1088.2,591.2 L1090.4,591.6 L1092.6,591.0 L1094.8,591.0 L1097.0,592.0 L1099.2,591.1 L1101.4,592.2 L1103.6,592.3 L1105.8,591.8 L1108.0,593.1 L1110.2,593.5 L1112.4,593.1 L1114.6,592.8 L1116.8,592.5 L1119.0,591.4 L1121.2,591.9 L1123.4,591.9 L1125.6,592.4 L1127.8,592.3 L1130.0,592.4 L1142.5,592.0 L1142.5,599 L25.6,599 Z" fill="#3a4422"/>
<path d="M25.6,564.5 L27.8,564.8 L30.0,565.1 L32.2,565.4 L34.4,565.8 L36.6,566.1 L38.8,566.4 L41.0,566.7 L43.2,567.0 L45.4,567.3 L47.6,567.6 L49.8,567.9 L52.0,568.1 L54.2,568.4 L56.4,568.7 L58.6,568.9 L60.8,569.2 L63.0,569.5 L65.2,569.7 L67.4,570.0 L69.6,570.3 L71.8,570.5 L74.0,570.6 L76.2,570.8 L78.4,570.9 L80.6,571.1 L82.8,571.2 L85.0,571.4 L87.2,571.5 L89.4,571.7 L91.6,571.8 L93.8,572.0 L96.0,572.1 L98.2,572.1 L100.4,572.1 L102.6,572.1 L104.8,572.1 L107.0,572.1 L109.2,572.1 L111.4,572.1 L113.6,572.1 L115.8,571.5 L118.0,570.9 L120.2,570.0 L122.4,568.7 L124.6,569.2 L126.8,569.5 L129.0,569.7 L131.2,568.4 L133.4,566.8 L135.6,565.3 L137.8,559.2 L140.0,555.7 L142.2,553.8 L144.4,557.2 L146.6,560.3 L148.8,563.1 L151.0,564.3 L153.2,565.3 L155.4,566.3 L157.6,567.2 L159.8,564.7 L162.0,564.4 L164.2,567.3 L166.4,566.3 L168.6,567.8 L170.8,567.3 L173.0,567.2 L175.2,567.0 L177.4,567.0 L179.6,567.7 L181.8,568.2 L184.0,570.3 L186.2,570.6 L188.4,570.2 L190.6,570.5 L192.8,569.8 L195.0,569.8 L197.2,570.0 L199.4,570.7 L201.6,570.9 L203.8,571.5 L206.0,572.5 L208.2,573.1 L210.4,573.3 L212.6,574.0 L214.8,573.9 L217.0,573.2 L219.2,573.7 L221.4,574.1 L223.6,577.8 L225.8,579.0 L228.0,577.1 L230.2,576.9 L232.4,576.1 L234.6,576.9 L236.8,577.8 L239.0,577.3 L241.2,577.8 L243.4,576.9 L245.6,577.4 L247.8,577.3 L250.0,576.7 L252.2,576.8 L254.4,573.1 L256.6,570.0 L258.8,568.9 L261.0,570.9 L263.2,572.8 L265.4,575.4 L267.6,575.9 L269.8,575.6 L272.0,576.3 L274.2,575.9 L276.4,577.3 L278.6,578.0 L280.8,579.2 L283.0,579.7 L285.2,579.7 L287.4,580.6 L289.6,581.2 L291.8,580.1 L294.0,580.6 L296.2,580.1 L298.4,580.5 L300.6,581.3 L302.8,583.2 L305.0,582.5 L307.2,582.6 L309.4,582.8 L311.6,583.5 L313.8,582.4 L316.0,582.9 L318.2,583.2 L320.4,584.2 L322.6,584.7 L324.8,585.3 L327.0,585.0 L329.2,585.3 L331.4,585.1 L333.6,585.7 L335.8,585.7 L338.0,584.8 L340.2,585.2 L342.4,585.7 L344.6,586.1 L346.8,586.9 L349.0,587.4 L351.2,587.0 L353.4,585.7 L355.6,585.4 L357.8,585.7 L360.0,586.3 L362.2,587.1 L364.4,587.1 L366.6,586.4 L368.8,586.1 L371.0,585.8 L373.2,584.5 L375.4,585.3 L377.6,584.7 L379.8,584.4 L382.0,583.8 L384.2,582.9 L386.4,582.4 L388.6,581.6 L390.8,581.9 L393.0,578.4 L395.2,576.7 L397.4,579.5 L399.6,580.9 L401.8,581.4 L404.0,581.4 L406.2,581.6 L408.4,582.1 L410.6,582.4 L412.8,583.0 L415.0,582.8 L417.2,584.3 L419.4,584.2 L421.6,583.8 L423.8,584.2 L426.0,584.6 L428.2,584.9 L430.4,584.8 L432.6,585.8 L434.8,585.7 L437.0,585.8 L439.2,586.8 L441.4,586.7 L443.6,586.7 L445.8,587.1 L448.0,587.0 L450.2,587.8 L452.4,586.9 L454.6,587.1 L456.8,588.7 L459.0,588.4 L461.2,588.2 L463.4,588.7 L465.6,587.9 L467.8,588.4 L470.0,588.9 L472.2,588.6 L474.4,588.6 L476.6,588.1 L478.8,588.5 L481.0,588.4 L483.2,589.4 L485.4,589.2 L487.6,589.7 L489.8,589.2 L492.0,589.1 L494.2,590.0 L496.4,590.3 L498.6,590.3 L500.8,590.1 L503.0,589.9 L505.2,589.6 L507.4,588.7 L509.6,588.9 L511.8,588.5 L514.0,588.0 L516.2,588.2 L518.4,588.6 L520.6,588.7 L522.8,589.4 L525.0,589.9 L527.2,587.9 L529.4,587.3 L531.6,586.3 L533.8,587.8 L536.0,588.0 L538.2,588.1 L540.4,588.4 L542.6,588.7 L544.8,589.0 L547.0,589.9 L549.2,590.5 L551.4,590.7 L553.6,590.4 L555.8,590.9 L558.0,591.3 L560.2,590.5 L562.4,591.6 L564.6,592.0 L566.8,592.0 L569.0,592.0 L571.2,591.8 L573.4,591.4 L575.6,592.4 L577.8,591.9 L580.0,592.6 L582.2,593.0 L584.4,592.3 L586.6,592.4 L588.8,593.2 L591.0,592.9 L593.2,592.1 L595.4,592.1 L597.6,592.1 L599.8,593.2 L602.0,593.2 L604.2,592.4 L606.4,593.5 L608.6,593.9 L610.8,593.6 L613.0,593.3 L615.2,593.7 L617.4,593.3 L619.6,593.1 L621.8,594.2 L624.0,593.4 L626.2,592.9 L628.4,593.2 L630.6,592.2 L632.8,592.5 L635.0,592.2 L637.2,591.0 L639.4,590.7 L641.6,590.5 L643.8,590.2 L646.0,590.7 L648.2,590.2 L650.4,590.4 L652.6,590.0 L654.8,591.0 L657.0,590.2 L659.2,590.3 L661.4,590.5 L663.6,590.9 L665.8,590.2 L668.0,590.9 L670.2,590.2 L672.4,590.3 L674.6,590.2 L676.8,589.5 L679.0,590.0 L681.2,589.7 L683.4,589.5 L685.6,590.6 L687.8,589.8 L690.0,590.2 L692.2,590.6 L694.4,590.4 L696.6,590.2 L698.8,590.5 L701.0,590.6 L703.2,590.9 L705.4,590.0 L707.6,590.6 L709.8,590.1 L712.0,590.0 L714.2,590.6 L716.4,590.2 L718.6,590.1 L720.8,590.3 L723.0,590.4 L725.2,588.9 L727.4,589.2 L729.6,590.6 L731.8,590.8 L734.0,591.2 L736.2,590.9 L738.4,591.2 L740.6,591.2 L742.8,592.0 L745.0,591.8 L747.2,592.2 L749.4,592.4 L751.6,591.6 L753.8,592.1 L756.0,592.7 L758.2,592.7 L760.4,591.8 L762.6,591.9 L764.8,592.4 L767.0,592.0 L769.2,592.4 L771.4,592.2 L773.6,593.2 L775.8,593.4 L778.0,593.7 L780.2,592.7 L782.4,593.6 L784.6,593.6 L786.8,593.0 L789.0,594.1 L791.2,594.3 L793.4,593.4 L795.6,594.5 L797.8,593.6 L800.0,593.2 L802.2,593.3 L804.4,593.1 L806.6,592.3 L808.8,592.7 L811.0,592.9 L813.2,592.7 L815.4,592.6 L817.6,592.8 L819.8,592.0 L822.0,589.5 L824.2,590.5 L826.4,591.3 L828.6,591.2 L830.8,591.7 L833.0,592.1 L835.2,591.9 L837.4,591.3 L839.6,592.6 L841.8,592.3 L844.0,592.6 L846.2,591.6 L848.4,592.0 L850.6,591.9 L852.8,593.1 L855.0,592.5 L857.2,592.5 L859.4,593.0 L861.6,593.7 L863.8,593.5 L866.0,592.8 L868.2,592.6 L870.4,593.7 L872.6,593.2 L874.8,593.4 L877.0,592.5 L879.2,592.5 L881.4,593.4 L883.6,593.0 L885.8,592.5 L888.0,593.7 L890.2,593.3 L892.4,593.5 L894.6,592.5 L896.8,593.6 L899.0,592.5 L901.2,593.5 L903.4,592.7 L905.6,592.3 L907.8,592.4 L910.0,592.7 L912.2,591.6 L914.4,591.1 L916.6,591.5 L918.8,590.9 L921.0,590.5 L923.2,590.3 L925.4,589.9 L927.6,589.9 L929.8,589.9 L932.0,589.6 L934.2,590.1 L936.4,589.2 L938.6,589.4 L940.8,589.3 L943.0,590.0 L945.2,589.9 L947.4,590.7 L949.6,590.7 L951.8,592.2 L954.0,592.3 L956.2,592.2 L958.4,592.7 L960.6,593.5 L962.8,592.5 L965.0,593.6 L967.2,593.2 L969.4,593.5 L971.6,594.1 L973.8,593.6 L976.0,593.9 L978.2,594.0 L980.4,594.2 L982.6,593.1 L984.8,593.6 L987.0,593.3 L989.2,593.0 L991.4,592.4 L993.6,590.9 L995.8,589.0 L998.0,587.7 L1000.2,587.5 L1002.4,589.3 L1004.6,589.5 L1006.8,590.2 L1009.0,590.2 L1011.2,591.4 L1013.4,591.7 L1015.6,591.6 L1017.8,591.2 L1020.0,591.3 L1022.2,591.6 L1024.4,592.0 L1026.6,591.7 L1028.8,592.3 L1031.0,592.2 L1033.2,592.8 L1035.4,592.1 L1037.6,590.8 L1039.8,590.4 L1042.0,591.6 L1044.2,590.9 L1046.4,591.2 L1048.6,590.9 L1050.8,591.6 L1053.0,591.3 L1055.2,590.0 L1057.4,588.6 L1059.6,590.6 L1061.8,591.5 L1064.0,591.9 L1066.2,591.4 L1068.4,591.6 L1070.6,590.9 L1072.8,590.4 L1075.0,589.3 L1077.2,587.8 L1079.4,589.2 L1081.6,590.2 L1083.8,591.0 L1086.0,591.0 L1088.2,591.2 L1090.4,591.6 L1092.6,591.0 L1094.8,591.0 L1097.0,592.0 L1099.2,591.1 L1101.4,592.2 L1103.6,592.3 L1105.8,591.8 L1108.0,593.1 L1110.2,593.5 L1112.4,593.1 L1114.6,592.8 L1116.8,592.5 L1119.0,591.4 L1121.2,591.9 L1123.4,591.9 L1125.6,592.4 L1127.8,592.3 L1130.0,592.4" fill="none" stroke="#ccff00" stroke-width="2.5" stroke-linejoin="round"/>
<text x="116" y="594" font-size="14.5" fill="#c8c8c8" stroke="#050505" stroke-width="4" stroke-linejoin="round" paint-order="stroke" textLength="60" lengthAdjust="spacingAndGlyphs">Jan 2025</text><text x="367" y="594" font-size="14.5" fill="#c8c8c8" stroke="#050505" stroke-width="4" stroke-linejoin="round" paint-order="stroke" textLength="59.5" lengthAdjust="spacingAndGlyphs">Apr 2025</text><text x="620.5" y="594" font-size="14.5" fill="#c8c8c8" stroke="#050505" stroke-width="4" stroke-linejoin="round" paint-order="stroke" textLength="56.5" lengthAdjust="spacingAndGlyphs">Jul 2025</text><text x="876" y="594" font-size="14.5" fill="#c8c8c8" stroke="#050505" stroke-width="4" stroke-linejoin="round" paint-order="stroke" textLength="61" lengthAdjust="spacingAndGlyphs">Oct 2025</text><text x="1133" y="594" font-size="14.5" fill="#c8c8c8" stroke="#050505" stroke-width="4" stroke-linejoin="round" paint-order="stroke" textLength="29.5" lengthAdjust="spacingAndGlyphs">Jan.</text>
<rect x="1142.5" y="548.5" width="21" height="51" fill="#6a6ee0" fill-opacity="0.38"/>
<rect x="1137.8" y="564.8" width="10.2" height="18.2" fill="#1e2536" stroke="#18a8ea" stroke-width="1.25"/>
<line x1="1141.5" y1="569" x2="1141.5" y2="579" stroke="#18a8ea" stroke-width="1"/>
<line x1="1144.3" y1="569" x2="1144.3" y2="579" stroke="#18a8ea" stroke-width="1"/>
<rect x="1157.8" y="564.8" width="10.2" height="18.2" fill="#1e2536" stroke="#18a8ea" stroke-width="1.25"/>
<line x1="1161.5" y1="569" x2="1161.5" y2="579" stroke="#18a8ea" stroke-width="1"/>
</g>
<line x1="25.5" y1="548.5" x2="1163" y2="548.5" stroke="#3b4a60" stroke-width="1"/>
<line x1="483" y1="634.2" x2="501" y2="634.2" stroke="#ccff00" stroke-width="2.6" stroke-linecap="round"/>
<text x="509" y="642" font-size="20.6" fill="#dddddd" textLength="68" lengthAdjust="spacingAndGlyphs">Players</text>
<circle cx="612.7" cy="632.8" r="10" fill="#4a582c"/>
<text x="628.5" y="642" font-size="20.6" fill="#dddddd" textLength="78" lengthAdjust="spacingAndGlyphs">Markers</text>
<text x="1163" y="669" font-size="15" fill="#9a9a9a" text-anchor="end" textLength="365" lengthAdjust="spacingAndGlyphs">data by SteamDB.info (powered by highcharts.com)</text>
</svg>
</body></html>
